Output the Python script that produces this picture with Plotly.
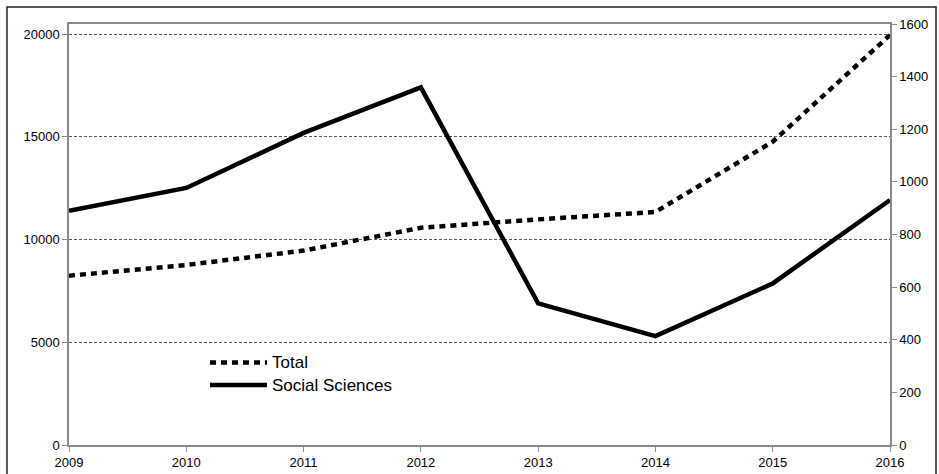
import plotly.graph_objects as go

# data
years = [2009, 2010, 2011, 2012, 2013, 2014, 2015, 2016]
total = [8240, 8760, 9460, 10570, 10980, 11340, 14760, 19950]
social_sciences = [890, 977, 1186, 1359, 538, 414, 614, 931]

left_ticks = [0, 5000, 10000, 15000, 20000]
right_ticks = [0, 200, 400, 600, 800, 1000, 1200, 1400, 1600]

FONT = "Liberation Sans, Arial, sans-serif"
AXIS_GREY = "#8a8a8a"

fig = go.Figure()

fig.add_trace(go.Scatter(
    x=years, y=total, name="Total", mode="lines",
    line=dict(color="black", width=4.5, dash="6px,5px"),
    yaxis="y",
))
fig.add_trace(go.Scatter(
    x=years, y=social_sciences, name="Social Sciences", mode="lines",
    line=dict(color="black", width=4.5),
    yaxis="y2",
))

fig.update_layout(
    width=939, height=474,
    margin=dict(l=69, r=49, t=24, b=29, autoexpand=False),
    paper_bgcolor="white", plot_bgcolor="white",
    showlegend=False,
    font=dict(family=FONT, size=13, color="black"),
    xaxis=dict(
        range=[years[0], years[-1]], tickvals=years, ticktext=[str(y) for y in years],
        showgrid=False, zeroline=False, automargin=False,
        showline=True, linecolor=AXIS_GREY, linewidth=1.5, mirror=True,
        ticks="outside", ticklen=5, tickcolor=AXIS_GREY, tickwidth=1,
    ),
    yaxis=dict(
        range=[0, 20487], tickvals=left_ticks, ticktext=[str(v) for v in left_ticks],
        showgrid=True, gridcolor="#555555", gridwidth=1, griddash="3px,2px",
        zeroline=False, automargin=False,
        showline=True, linecolor=AXIS_GREY, linewidth=1.5,
        ticks="outside", ticklen=5, tickcolor=AXIS_GREY, tickwidth=1,
    ),
    yaxis2=dict(
        range=[0, 1600], tickvals=right_ticks, ticktext=[str(v) for v in right_ticks],
        overlaying="y", side="right",
        showgrid=False, zeroline=False, automargin=False,
        showline=True, linecolor=AXIS_GREY, linewidth=1.5,
        ticks="outside", ticklen=5, tickcolor=AXIS_GREY, tickwidth=1,
    ),
)

# manual legend (long line samples like the original)
def px_x(px):
    return (px - 69) / 821

def px_y(px):
    return (445 - px) / 421

legend_items = [("Total", "6px,5px", 362.5), ("Social Sciences", "solid", 385)]
for label, dash, ypix in legend_items:
    fig.add_shape(type="line", xref="paper", yref="paper",
                  x0=px_x(210), x1=px_x(267), y0=px_y(ypix), y1=px_y(ypix),
                  line=dict(color="black", width=4.5, dash=dash))
    fig.add_annotation(xref="paper", yref="paper", x=px_x(270), y=px_y(ypix),
                       text=label, showarrow=False, xanchor="left", yanchor="middle",
                       font=dict(family=FONT, size=17, color="black"))

# outer frame of the picture
fig.add_shape(type="rect", xref="paper", yref="paper",
              x0=px_x(7), x1=px_x(936), y0=px_y(490), y1=px_y(7),
              line=dict(color="#222222", width=1.5))

# page body has a default margin; drop it so the figure sits at 0,0
fig.write_html("out.html", config={"displayModeBar": False},
               post_script="document.body.style.margin='0';")
